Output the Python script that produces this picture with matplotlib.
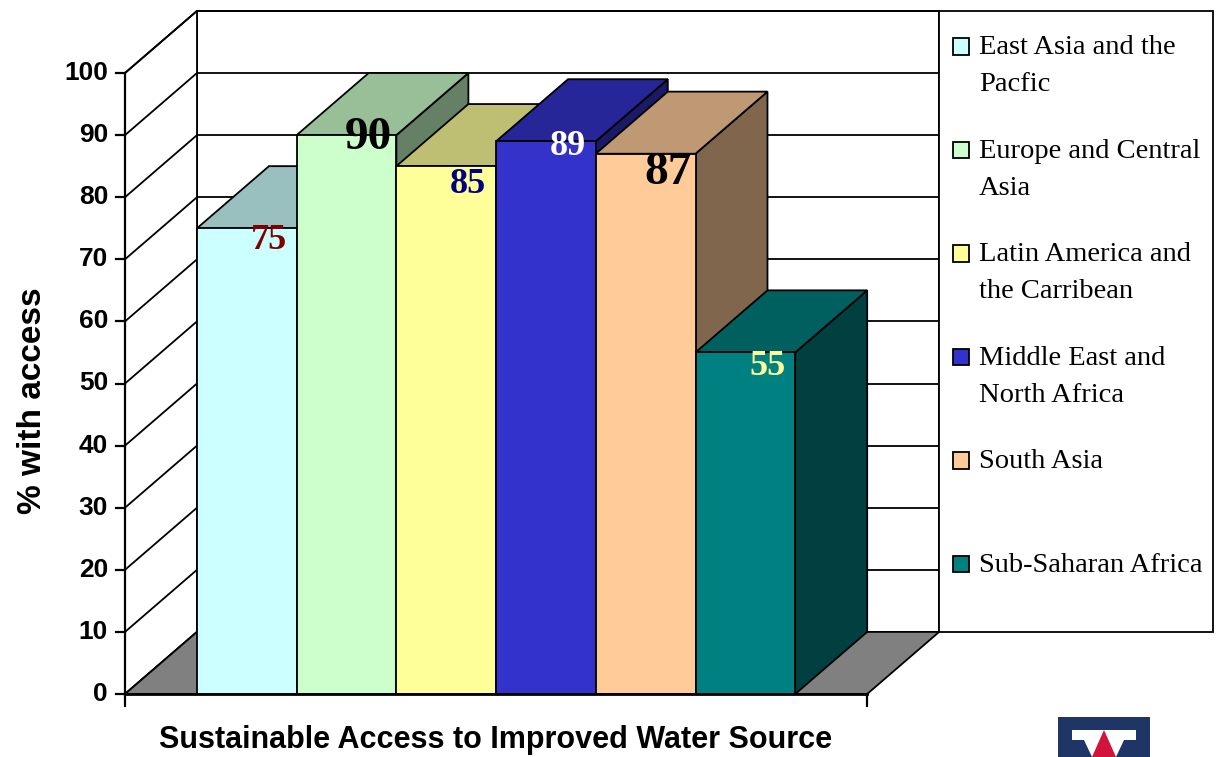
import numpy as np
import matplotlib.pyplot as plt
from matplotlib.patches import Polygon, Rectangle
from matplotlib.colors import to_rgb

# data
regions = ['East Asia and the\nPacfic', 'Europe and Central\nAsia',
           'Latin America and\nthe Carribean', 'Middle East and\nNorth Africa',
           'South Asia', 'Sub-Saharan Africa']
access = [75, 90, 85, 89, 87, 55]
yticks = list(range(0, 101, 10))

# style
bar_colors = ['#CCFFFF', '#CCFFCC', '#FFFF99', '#3333CC', '#FFCC99', '#008080']
lab_colors = ['#800000', 'black', '#000080', 'white', 'black', '#FFFF99']
lab_sizes = [26, 34, 26, 26, 34, 26]
lab_dy = [-2.0, -0.5, -2.9, -0.8, -3.1, -2.2]

plt.rcParams['font.family'] = ['Liberation Sans', 'DejaVu Sans']

fig = plt.figure(figsize=(12.16, 7.57), dpi=100)
ax = fig.add_axes([0, 0, 1, 1])
ax.set_xlim(-197 / 99.7, (1216 - 197) / 99.7)
ax.set_ylim(-63 / 6.21, 694 / 6.21)
ax.axis('off')

n = len(access)
dx, dy = 0.722, 10.0     # depth of the 3d box
x0 = -dx                 # front y axis
lw = 1.3


def shade(c, f):
    r, g, b = to_rgb(c)
    return (r * f, g * f, b * f)


# back wall
ax.add_patch(Rectangle((x0 + dx, dy), n + 2 * dx, 100, fc='white', ec='black', lw=lw, zorder=1))
for k in yticks:
    ax.plot([x0 + dx, n + 2 * dx], [k + dy, k + dy], color='black', lw=lw, zorder=1)
# left wall
ax.add_patch(Polygon([(x0, 0), (x0 + dx, dy), (x0 + dx, 100 + dy), (x0, 100)],
                     closed=True, fc='white', ec='black', lw=lw, zorder=1))
for k in yticks:
    ax.plot([x0, x0 + dx], [k, k + dy], color='black', lw=lw, zorder=1)
# floor
ax.add_patch(Polygon([(x0, 0), (n + dx, 0), (n + 2 * dx, dy), (x0 + dx, dy)],
                     closed=True, fc='#808080', ec='black', lw=lw, zorder=2))

# bars, left to right so that each front covers the previous side
for i, v in enumerate(access):
    c = bar_colors[i]
    z = 3 + i
    ax.add_patch(Polygon([(i + 1, 0), (i + 1 + dx, dy), (i + 1 + dx, v + dy), (i + 1, v)],
                         closed=True, fc=shade(c, 0.5), ec='black', lw=lw, zorder=z))
    ax.add_patch(Polygon([(i, v), (i + 1, v), (i + 1 + dx, v + dy), (i + dx, v + dy)],
                         closed=True, fc=shade(c, 0.75), ec='black', lw=lw, zorder=z))
    ax.add_patch(Rectangle((i, 0), 1, v, fc=c, ec='black', lw=lw, zorder=z))

for i, v in enumerate(access):
    ax.text(i + 0.72, v + lab_dy[i], str(v), ha='center', va='center',
            fontsize=lab_sizes[i], fontweight='bold', color=lab_colors[i],
            family='Liberation Serif', zorder=20)

# front axis
ax.plot([x0, x0], [0, 100], color='black', lw=1.6, zorder=15)
ax.plot([x0, n + dx], [0, 0], color='black', lw=2.0, zorder=15)
ax.plot([x0, x0], [0, -2], color='black', lw=1.6, zorder=15)
ax.plot([n + dx, n + dx], [0, -2], color='black', lw=1.6, zorder=15)
for k in yticks:
    ax.plot([x0 - 0.09, x0], [k, k], color='black', lw=1.6, zorder=15)
    ax.text(x0 - 0.17, k, str(k), ha='right', va='center', fontsize=19,
            fontweight='bold')

ax.text(-1.65, 47.3, '% with access', rotation=90, ha='center', va='center',
        fontsize=24, fontweight='bold')
ax.text(2.99, -7.4, 'Sustainable Access to Improved Water Source', ha='center',
        va='center', fontsize=22, fontweight='bold')

# legend box
lx0 = n + 2 * dx
lx1 = (1213 - 197) / 99.7
ax.add_patch(Rectangle((lx0, dy), lx1 - lx0, 100, fc='white', ec='black', lw=lw, zorder=25))
slot = 100 / n
for i, lab in enumerate(regions):
    yc = 100 + dy - slot * (i + 0.5) + 2.6
    ax.add_patch(Rectangle((7.58, yc - 1.29), 0.16, 2.58, fc=bar_colors[i], ec='black',
                           lw=1.3, zorder=26))
    ax.text(7.84, yc + 1.8, lab, ha='left', va='top', fontsize=20.5,
            family='Liberation Serif', linespacing=1.62, zorder=26)

# logo in the lower right corner
lg = fig.add_axes([1058 / 1216, 0, 92 / 1216, 40 / 757])
lg.set_xlim(0, 92)
lg.set_ylim(0, 40)
lg.axis('off')
lg.add_patch(Rectangle((0, 0), 92, 40, fc='#1F3566', ec='none'))
lg.add_patch(Polygon([(14, 27), (78, 27), (78, 17), (66, 17), (58, 0), (34, 0), (26, 17), (14, 17)],
                     closed=True, fc='white', ec='none'))
lg.add_patch(Polygon([(46, 27), (58, 0), (34, 0)], closed=True, fc='#D2143A', ec='none'))

fig.savefig('out.png', dpi=100)
